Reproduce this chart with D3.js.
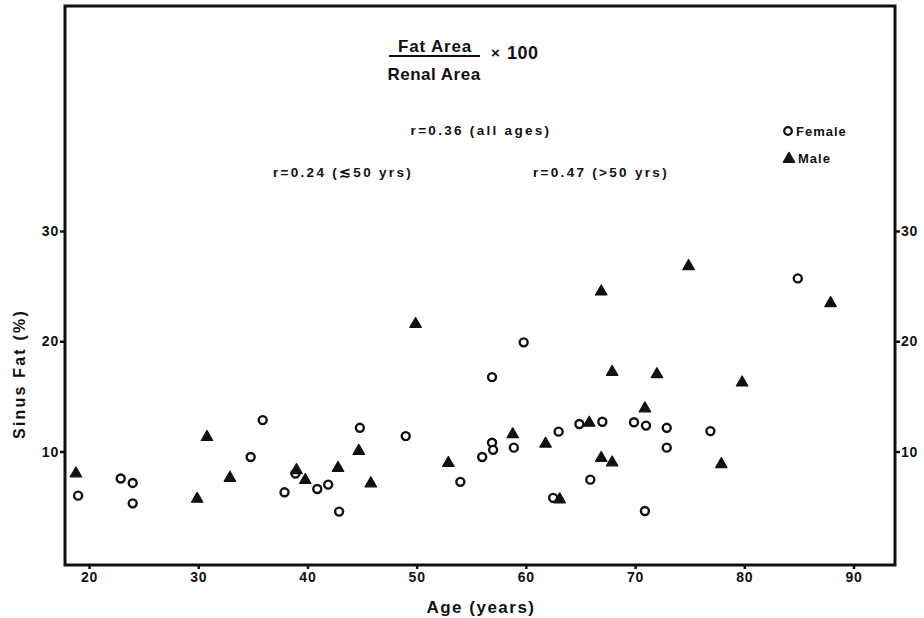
<!DOCTYPE html>
<html>
<head>
<meta charset="utf-8">
<script src="https://cdn.jsdelivr.net/npm/d3@7"></script>
<style>
  html, body { margin: 0; padding: 0; background: #fff; }
  svg { display: block; }
  text { font-family: "Liberation Sans", Arial, Helvetica, sans-serif; fill: #111; }
</style>
</head>
<body>
<svg id="chart" width="924" height="618"></svg>
<script>
// Sinus fat (%) against age, by sex
const femaleAge = [19.0, 22.9, 24.0, 24.0, 34.8, 35.9, 37.9, 38.9, 40.9, 41.9, 42.9, 44.8, 49.0, 54.0, 56.0, 56.9, 56.9, 57.0, 58.9, 59.8, 63.0, 62.5, 64.9, 65.9, 67.0, 69.9, 71.0, 70.9, 72.9, 72.9, 76.9, 84.9];
const femaleFat = [6.0, 7.55, 7.15, 5.3, 9.5, 12.85, 6.3, 8.0, 6.6, 7.0, 4.55, 12.15, 11.4, 7.25, 9.5, 16.75, 10.8, 10.15, 10.35, 19.9, 11.8, 5.8, 12.5, 7.45, 12.7, 12.65, 12.35, 4.6, 12.15, 10.35, 11.85, 25.7];

const maleAge = [18.8, 29.9, 30.8, 32.9, 39.0, 39.8, 42.8, 44.7, 45.8, 49.9, 52.9, 58.8, 61.8, 63.1, 65.8, 66.9, 66.9, 67.9, 67.9, 70.9, 72.0, 74.9, 77.9, 79.8, 87.9];
const maleFat = [8.0, 5.7, 11.3, 7.6, 8.3, 7.4, 8.5, 10.05, 7.1, 21.55, 8.95, 11.55, 10.7, 5.65, 12.6, 24.5, 9.4, 17.2, 9.0, 13.9, 17.0, 26.8, 8.85, 16.25, 23.45];

const xTicks = [20, 30, 40, 50, 60, 70, 80, 90];
const yTicks = [10, 20, 30];

const correlations = [
  { label: "r=0.36 (all ages)", cx: 481, cy: 135 },
  { label: "r=0.24 (\u227250 yrs)", cx: 343, cy: 177 },
  { label: "r=0.47 (>50 yrs)", cx: 601, cy: 177 }
];

const svg = d3.select("#chart");
const frame = { left: 65, right: 895, top: 6, bottom: 565 };

const x = d3.scaleLinear().domain([17.8, 93.8]).range([frame.left, frame.right]);
const y = d3.scaleLinear().domain([-0.2, 50.4]).range([564, frame.top]);

// plot frame
svg.append("rect")
  .attr("x", frame.left).attr("y", frame.top)
  .attr("width", frame.right - frame.left)
  .attr("height", frame.bottom - frame.top)
  .attr("fill", "none").attr("stroke", "#111").attr("stroke-width", 3);

function styleAxis(g) {
  g.select(".domain").remove();
  g.selectAll(".tick line").attr("stroke", "#111").attr("stroke-width", 2.5);
  g.selectAll(".tick text")
    .attr("font-size", 14).attr("font-weight", "bold").attr("letter-spacing", 0.8)
    .attr("font-family", "Liberation Sans, Arial, sans-serif")
    .attr("fill", "#111");
}

svg.append("g")
  .attr("transform", `translate(${frame.left},0)`)
  .call(d3.axisLeft(y).tickValues(yTicks).tickSize(5).tickPadding(1).tickFormat(d3.format("d")))
  .call(styleAxis);

svg.append("g")
  .attr("transform", `translate(${frame.right},0)`)
  .call(d3.axisRight(y).tickValues(yTicks).tickSize(5).tickPadding(1).tickFormat(d3.format("d")))
  .call(styleAxis);

svg.append("g")
  .attr("transform", `translate(0,${frame.bottom})`)
  .call(d3.axisBottom(x).tickValues(xTicks).tickSize(4).tickPadding(3).tickFormat(d3.format("d")))
  .call(styleAxis);

// axis titles
svg.append("text")
  .attr("x", 481).attr("y", 613)
  .attr("text-anchor", "middle")
  .attr("font-size", 17).attr("font-weight", "bold").attr("letter-spacing", 1.5)
  .text("Age (years)");

svg.append("text")
  .attr("transform", "translate(25,374) rotate(-90)")
  .attr("text-anchor", "middle")
  .attr("font-size", 16).attr("font-weight", "bold").attr("letter-spacing", 2.2)
  .text("Sinus Fat (%)");

// formula
svg.append("text")
  .attr("x", 435).attr("y", 52)
  .attr("text-anchor", "middle")
  .attr("font-size", 17).attr("font-weight", "bold").attr("letter-spacing", 0.8)
  .text("Fat Area");
svg.append("line")
  .attr("x1", 389).attr("x2", 480).attr("y1", 56).attr("y2", 56)
  .attr("stroke", "#111").attr("stroke-width", 2);
svg.append("text")
  .attr("x", 434).attr("y", 80)
  .attr("text-anchor", "middle")
  .attr("font-size", 17).attr("font-weight", "bold").attr("letter-spacing", 0.5)
  .text("Renal Area");
svg.append("text")
  .attr("x", 491).attr("y", 58)
  .attr("font-size", 15).attr("font-weight", "bold")
  .text("\u00d7");
svg.append("text")
  .attr("x", 507).attr("y", 59)
  .attr("font-size", 18).attr("font-weight", "bold").attr("letter-spacing", 0.5)
  .text("100");

// correlation notes
svg.selectAll("text.corr")
  .data(correlations)
  .join("text")
  .attr("class", "corr")
  .attr("x", d => d.cx).attr("y", d => d.cy)
  .attr("text-anchor", "middle")
  .attr("font-size", 13.5).attr("font-weight", "bold").attr("letter-spacing", 2.3)
  .text(d => d.label);

// markers
const tri = d3.symbol().type(d3.symbolTriangle).size(56);

const females = femaleAge.map((a, i) => ({ age: a, fat: femaleFat[i] }));
const males = maleAge.map((a, i) => ({ age: a, fat: maleFat[i] }));

svg.append("g")
  .selectAll("circle")
  .data(females)
  .join("circle")
  .attr("cx", d => x(d.age)).attr("cy", d => y(d.fat))
  .attr("r", 4)
  .attr("fill", "#fff").attr("stroke", "#111").attr("stroke-width", 2.4);

svg.append("g")
  .selectAll("path")
  .data(males)
  .join("path")
  .attr("d", tri)
  .attr("transform", d => `translate(${x(d.age)},${y(d.fat)})`)
  .attr("fill", "#111").attr("stroke", "#111")
  .attr("stroke-width", 1.3).attr("stroke-linejoin", "round");

// legend
const legend = svg.append("g");
legend.append("circle")
  .attr("cx", 788).attr("cy", 131).attr("r", 3.8)
  .attr("fill", "#fff").attr("stroke", "#111").attr("stroke-width", 2.3);
legend.append("text")
  .attr("x", 796).attr("y", 136)
  .attr("font-size", 13).attr("font-weight", "bold").attr("letter-spacing", 1)
  .text("Female");
legend.append("path")
  .attr("d", tri)
  .attr("transform", "translate(789,159)")
  .attr("fill", "#111").attr("stroke", "#111")
  .attr("stroke-width", 1.3).attr("stroke-linejoin", "round");
legend.append("text")
  .attr("x", 798).attr("y", 163)
  .attr("font-size", 13).attr("font-weight", "bold").attr("letter-spacing", 1)
  .text("Male");
</script>
</body>
</html>
